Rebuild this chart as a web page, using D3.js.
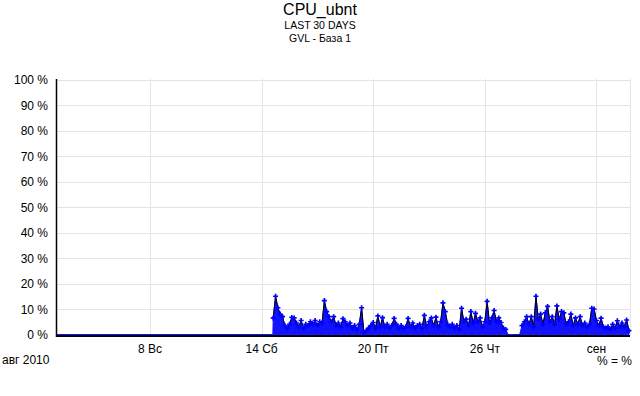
<!DOCTYPE html>
<html><head><meta charset="utf-8">
<script src="https://cdn.jsdelivr.net/npm/d3@7"></script>
<style>
html,body{margin:0;padding:0;background:#fff;}
svg text{font-family:"Liberation Sans",Arial,sans-serif;fill:#000;}
</style></head>
<body><svg id="c" width="640" height="396"></svg>
<script>
// ---- data ----
const titleLines = ["CPU_ubnt", "LAST 30 DAYS", "GVL - База 1"];
const domainStart = "2010-08-03T00:00";
const domainEnd = "2010-09-02T19:20";
const leadZeros = [["2010-08-03T00:00", 0], ["2010-08-14T14:30", 0]];
const seriesStart = "2010-08-14T15:00";
const stepHours = 3;
const cpuValues = [
 6.5,15,10.5,8,7,3.5,2.5,4,6.7,6.5, 4.5,3,5.5,2.5,4,3.5,5,4,5.5,3.5,
 5,4.5,13.3,9,7,5,7,3.5,4.5,3, 6.2,5,3.5,4.5,2.5,3.5,2,4,10.5,0.8,
 1.5,2.5,3.5,4.7,2.5,7.3,3,6.6,3,4, 2.5,3.5,6.3,4,2.5,3.5,2.5,3,6.3,3,
 4.5,2.5,3.5,4,2.5,7.5,3,5,6.5,3.5, 6.8,3,5,12.4,9,4,3,4,2.5,3.5,
 2,10.3,5,6,3.5,9,4.5,8.3,5,6.5, 3,5,13,4.5,6.5,9.4,5,6.5,4.7,2.5,
 2,0,0,0,0,0,0,3.5,5,7, 4,7,3,15,6,8,4,8.5,11,5,
 7,4,11.2,6,9,8.5,4,5,8,3.5, 6.5,4,7,3.5,4.5,3,4,10.3,10,5.5,
 3.5,6.4,3,2.5,3,2,4,2.5,5.4,3, 4.5,3,5.7,1.5
];
const yTickValues = [0,10,20,30,40,50,60,70,80,90,100];
const xTickDates = ["2010-08-08","2010-08-14","2010-08-20","2010-08-26","2010-09-01"];
const xTickLabels = ["8 Вс","14 Сб","20 Пт","26 Чт","сен"];
const monthLabel = "авг 2010";
const unitLabel = "% = %";

// ---- build ----
const parse = d3.isoParse;
const t0 = parse(seriesStart);
const series = cpuValues.map((v,i)=>({t:new Date(t0.getTime()+i*stepHours*3600e3), v}));
const lead = leadZeros.map(([t,v])=>({t:parse(t),v}));
const all = lead.concat(series);

const svg = d3.select("#c");
const L=57, R=630, T=79.5, B=334.5;
const x = d3.scaleTime().domain([parse(domainStart), parse(domainEnd)]).range([L,R]);
const y = d3.scaleLinear().domain([0,100]).range([B,T]);

// grid
const g = svg.append("g");
g.selectAll("line.h").data(yTickValues.filter(v=>v>0)).join("line")
 .attr("x1",L).attr("x2",R)
 .attr("y1",d=>Math.round(y(d))+0.5).attr("y2",d=>Math.round(y(d))+0.5)
 .attr("stroke","#e4e4e4");
const xTicks = xTickDates.map(parse);
g.selectAll("line.v").data(xTicks.concat([parse(domainEnd)])).join("line")
 .attr("x1",d=>Math.round(x(d))+0.5).attr("x2",d=>Math.round(x(d))+0.5)
 .attr("y1",79).attr("y2",336)
 .attr("stroke","#e4e4e4");

// area
const area = d3.area().x(d=>x(d.t)).y0(y(0)).y1(d=>y(d.v)).curve(d3.curveLinear);
svg.append("path").datum(all).attr("d",area)
 .attr("fill","#1212ff").attr("stroke","#1212ff").attr("stroke-width",1);

// black line (only where data is present)
const line = d3.line().x(d=>x(d.t)).y(d=>y(d.v)).defined(d=>d.v>0);
svg.append("path").datum(series).attr("d",line)
 .attr("fill","none").attr("stroke","#000").attr("stroke-width",1);

// markers
const sym = d3.symbol().type(d3.symbolCross).size(14);
svg.selectAll("path.m").data(series.filter(d=>d.v>0)).join("path")
 .attr("transform",d=>`translate(${x(d.t)},${y(d.v)})`)
 .attr("d",sym).attr("fill","#0000ff");

// axes lines
svg.append("line").attr("x1",L).attr("x2",R).attr("y1",336).attr("y2",336)
 .attr("stroke","#000").attr("stroke-width",2);
svg.append("line").attr("x1",56.5).attr("x2",56.5).attr("y1",79).attr("y2",337)
 .attr("stroke","#000").attr("stroke-width",1.5);

// y labels
svg.selectAll("text.y").data(yTickValues).join("text")
 .attr("x",48).attr("y",d=>y(d)+4.5).attr("text-anchor","end")
 .attr("font-size",12).text(d=>d+" %");

// x labels
svg.selectAll("text.x").data(xTicks).join("text")
 .attr("x",d=>x(d)).attr("y",353).attr("text-anchor","middle")
 .attr("font-size",12).text((d,i)=>xTickLabels[i]);
svg.append("text").attr("x",2).attr("y",364).attr("font-size",12).text(monthLabel);
svg.append("text").attr("x",632).attr("y",365).attr("text-anchor","end").attr("font-size",12).text(unitLabel);

// titles
svg.append("text").attr("x",320).attr("y",15).attr("text-anchor","middle").attr("font-size",16).text(titleLines[0]);
svg.append("text").attr("x",320).attr("y",28.5).attr("text-anchor","middle").attr("font-size",10.5).text(titleLines[1]);
svg.append("text").attr("x",320).attr("y",42).attr("text-anchor","middle").attr("font-size",10.5).text(titleLines[2]);
</script></body></html>
